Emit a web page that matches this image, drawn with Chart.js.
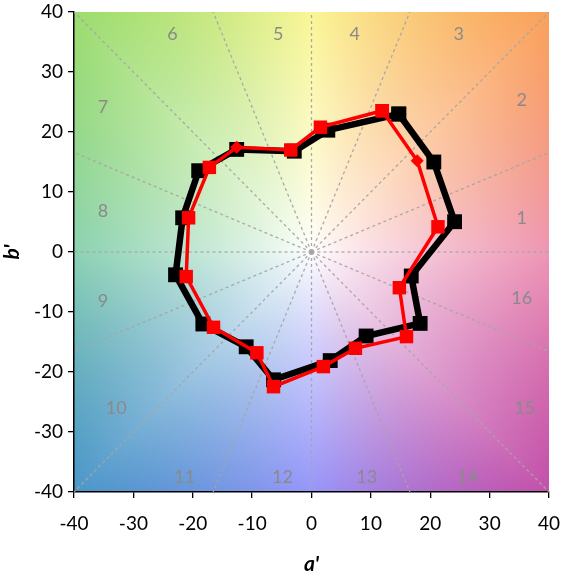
<!DOCTYPE html>
<html><head><meta charset="utf-8">
<script src="https://cdn.jsdelivr.net/npm/chart.js@4/dist/chart.umd.min.js"></script>
<style>html,body{margin:0;padding:0;background:#fff}canvas{display:block}</style>
</head><body>
<canvas id="c" width="563" height="579"></canvas>
<script>
// ---- data ----
const axisTicks = [-40,-30,-20,-10,0,10,20,30,40];
const binLabels = ['1','2','3','4','5','6','7','8','9','10','11','12','13','14','15','16'];
const blackA = [14.7,20.6,24.1,16.8,18.3,9.2,3.15,-6.4,-11.0,-18.3,-22.9,-21.7,-19.0,-12.6,-2.9,2.75];
const blackB = [23.0,15.0,5.05,-4.0,-11.9,-14.0,-18.1,-21.3,-15.8,-12.0,-3.8,5.7,13.55,17.1,16.8,20.3];
const redA = [11.9,17.8,21.3,14.8,16.0,7.4,2.0,-6.4,-9.2,-16.5,-21.1,-20.7,-17.2,-12.6,-3.5,1.5];
const redB = [23.55,15.2,4.2,-5.95,-14.1,-16.05,-19.1,-22.45,-16.8,-12.55,-4.1,5.7,14.1,17.45,17.0,20.8];
const redDiamondIdx = [1,13];

function loop(a,b){const p=a.map((v,i)=>({x:v,y:b[i]}));p.push({...p[0]});return p;}
const blackPts = loop(blackA,blackB);
const redPts = loop(redA,redB);
const redStyles = redPts.map((p,i)=>redDiamondIdx.includes(i%redA.length)?'rectRot':'rect');
const redRadius = redPts.map((p,i)=>redDiamondIdx.includes(i%redA.length)?6.5:9.5);

// label placement (style), in axis units
const binLabelPos = [[35.4,5.7],[35.4,25.3],[24.8,36.3],[7.3,36.3],[-5.6,36.3],[-23.4,36.3],[-35.1,24.2],[-35.1,6.8],
  [-35.1,-8.2],[-32.9,-26],[-21.4,-37.5],[-4.9,-37.5],[9.3,-37.5],[26.3,-37.5],[35.9,-26],[35.4,-7.7]];

// background colour anchors by angle (deg)
const anchors = [
  [0,[238,150,180]],[45,[250,160,90]],[90,[250,246,150]],[135,[155,220,110]],
  [180,[140,210,178]],[225,[75,150,200]],[270,[150,150,250]],[315,[195,80,170]],[360,[238,150,180]]
];
function hueCol(deg){
  for(let i=0;i<anchors.length-1;i++){
    const [a0,c0]=anchors[i],[a1,c1]=anchors[i+1];
    if(deg>=a0&&deg<=a1){const t=(deg-a0)/(a1-a0);return c0.map((v,k)=>v+(c1[k]-v)*t);}
  }
  return anchors[0][1];
}

const bgPlugin = {
  id:'bg',
  beforeDraw(chart){
    const {ctx,chartArea:ca,scales:{x,y}}=chart;
    const w=Math.round(ca.right-ca.left),h=Math.round(ca.bottom-ca.top);
    const off=document.createElement('canvas');off.width=w;off.height=h;
    const octx=off.getContext('2d');const img=octx.createImageData(w,h);
    for(let j=0;j<h;j++){
      const bv=y.getValueForPixel(ca.top+j+0.5);
      for(let i=0;i<w;i++){
        const av=x.getValueForPixel(ca.left+i+0.5);
        let deg=Math.atan2(bv,av)*180/Math.PI;if(deg<0)deg+=360;
        const t=Math.min(1,Math.max(Math.abs(av),Math.abs(bv))/40);
        const m=Math.pow(t,0.85);
        const c=hueCol(deg);
        const k=(j*w+i)*4;
        img.data[k]=255+(c[0]-255)*m;img.data[k+1]=255+(c[1]-255)*m;img.data[k+2]=255+(c[2]-255)*m;img.data[k+3]=255;
      }
    }
    octx.putImageData(img,0,0);
    ctx.drawImage(off,ca.left,ca.top);
  },
  beforeDatasetsDraw(chart){
    const {ctx,chartArea:ca,scales:{x,y}}=chart;
    ctx.save();
    ctx.beginPath();ctx.rect(ca.left,ca.top,ca.right-ca.left,ca.bottom-ca.top);ctx.clip();
    ctx.strokeStyle='rgba(165,165,165,0.95)';ctx.lineWidth=1.3;ctx.setLineDash([3,3]);
    const cx=x.getPixelForValue(0),cy=y.getPixelForValue(0);
    for(let k=0;k<16;k++){
      const ang=k*22.5*Math.PI/180;const dx=Math.cos(ang),dy=Math.sin(ang);
      const s=40/Math.max(Math.abs(dx),Math.abs(dy));
      ctx.beginPath();ctx.moveTo(cx,cy);ctx.lineTo(x.getPixelForValue(dx*s),y.getPixelForValue(dy*s));ctx.stroke();
    }
    ctx.setLineDash([]);
    ctx.fillStyle='#8a8a8a';ctx.font='18px Lato, "Open Sans", sans-serif';ctx.textAlign='center';ctx.textBaseline='middle';
    binLabels.forEach((l,i)=>{ctx.fillText(l,x.getPixelForValue(binLabelPos[i][0]),y.getPixelForValue(binLabelPos[i][1]));});
    ctx.restore();
  }
};

const tickFont={family:'Lato, "Open Sans", sans-serif',size:19};
const titleFont={family:'Lato, "Open Sans", sans-serif',size:21,weight:'bold',style:'italic'};

new Chart(document.getElementById('c'),{
  type:'scatter',
  data:{datasets:[
    {data:redPts,showLine:true,borderColor:'#ff0000',backgroundColor:'#ff0000',borderWidth:3.5,
     pointStyle:redStyles,pointRadius:redRadius,pointBorderWidth:0,order:1,tension:0},
    {data:blackPts,showLine:true,borderColor:'#000000',backgroundColor:'#000000',borderWidth:6.5,
     pointStyle:'rect',pointRadius:10.5,pointBorderWidth:0,order:2,tension:0}
  ]},
  options:{
    responsive:false,animation:false,
    layout:{padding:{top:12,right:14,left:0,bottom:0}},
    plugins:{legend:{display:false},tooltip:{enabled:false}},
    scales:{
      x:{type:'linear',min:-40,max:40,
        afterBuildTicks(s){s.ticks=axisTicks.map(v=>({value:v}));},
        ticks:{font:tickFont,color:'#000',padding:14,maxRotation:0},
        grid:{drawOnChartArea:false,drawTicks:true,tickLength:6,color:'#000',lineWidth:1.3},
        border:{color:'#000',width:1.5},
        title:{display:true,text:"a'",font:titleFont,color:'#000',padding:{top:6,bottom:2}},
        afterFit(s){s.height=87;s.paddingLeft=0;s.paddingRight=0;}
      },
      y:{type:'linear',min:-40,max:40,
        afterBuildTicks(s){s.ticks=axisTicks.map(v=>({value:v}));},
        ticks:{font:tickFont,color:'#000',padding:5},
        grid:{drawOnChartArea:false,drawTicks:true,tickLength:6,color:'#000',lineWidth:1.3},
        border:{color:'#000',width:1.5},
        title:{display:true,text:"b'",font:titleFont,color:'#000',padding:{top:0,bottom:8}},
        afterFit(s){s.width=74;s.paddingTop=0;s.paddingBottom=0;}
      }
    }
  },
  plugins:[bgPlugin]
});
</script>
</body></html>
